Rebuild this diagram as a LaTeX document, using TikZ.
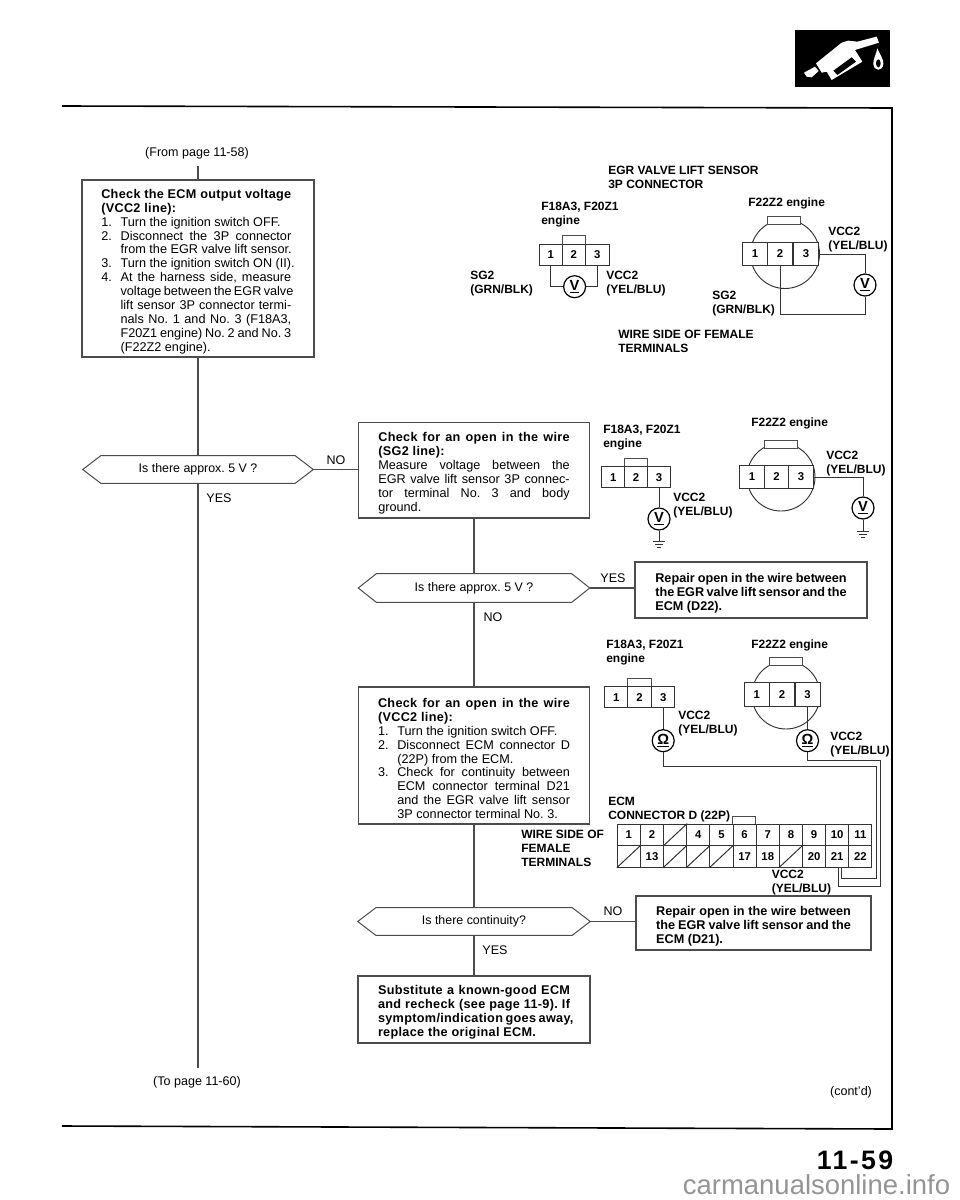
\documentclass[tikz,border=0pt]{standalone}
\usepackage{fontspec}
\setmainfont{Liberation Sans}
\newfontfamily\blsfam{Liberation Sans}[LetterSpace=2.5]
\newfontfamily\pgfam{Liberation Sans}[LetterSpace=9]
\definecolor{lc}{gray}{0.3}
\frenchspacing
\newlength{\tw}
\newcommand{\JL}[1]{\hbox to \tw{#1}}
\newcommand{\SL}[1]{\hbox{#1}}
\newcommand{\IT}[3]{\hbox to \tw{\hbox to 14.5pt{#1\hss}#2}}
\newcommand{\IL}[2]{\hbox{\hbox to 14.5pt{#1\hss}#2}}
\newcommand{\TX}[2]{\vbox{\hsize=#1\tw=#1\baselineskip=10.4pt\fontsize{9.5}{10.4}\selectfont\kern4.5pt #2}}
\newcommand{\TB}[1]{{\blsfam\bfseries #1}}
\newcommand{\HexOutline}[1]{\draw[hexline] (#1.west) -- ([xshift=13.5pt]#1.north west) -- ([xshift=-13.5pt]#1.north east) -- (#1.east) -- ([xshift=-13.5pt]#1.south east) -- ([xshift=13.5pt]#1.south west) -- cycle;}
\tikzset{
  wire/.style={line width=.75pt,draw=black!80},
  flow/.style={line width=.8pt,draw=lc},
  hexline/.style={draw=lc,line width=.75pt,line join=miter},
  bx/.style={draw=lc,fill=white,line width=.8pt,inner sep=0pt},
  hexa/.style={inner sep=0pt,font=\fontsize{9.3}{11}\selectfont},
  lab/.style={font=\bfseries\fontsize{9}{10.5}\selectfont,align=left,anchor=north west,inner sep=0pt},
  note/.style={font=\fontsize{9.4}{11}\selectfont,inner sep=0pt,anchor=center},
  cell/.style={draw=black!80,fill=white,line width=.7pt,inner sep=0pt,font=\bfseries\fontsize{8.5}{10}\selectfont},
  tabbox/.style={draw=black!70,fill=white,line width=.6pt,inner sep=0pt},
  meter/.style={circle,draw=black,fill=white,line width=.9pt,inner sep=0pt,minimum size=16.5pt,font=\bfseries\fontsize{11}{12}\selectfont},
}
\begin{document}
\begin{tikzpicture}[x=.75pt,y=-.75pt]
\useasboundingbox (0,0) rectangle (960,1200);
% page frame
\draw[line width=1.2pt,black] (62,106) -- (892,108) -- (892,1129) -- (62,1126);
% icon
\begin{scope}[shift={(780,0)},x=.25pt,y=-.25pt]
\fill[black] (45,90) rectangle (331,260);
\fill[white] (72,218) -- (105,200) -- (116,213) -- (95,232) -- (80,230) -- cycle;
\fill[white] (108,190) -- (185,128) -- (205,122) -- (232,125) -- (290,110) -- (297,128) -- (225,150) -- (247,185) -- (155,240) -- (140,215) -- (125,218) -- cycle;
\fill[black] (160,212) -- (215,172) -- (228,185) -- (172,225) -- cycle;
\fill[white] (292,145) .. controls (300,165) and (312,178) .. (310,192) .. controls (308,215) and (282,215) .. (280,192) .. controls (279,178) and (288,165) .. (292,145) -- cycle;
\fill[black] (295,190) ellipse (7 and 12);
\end{scope}
% flow labels
\node[note] (fromtxt) at (197,153) {(From page 11-58)};
\node[note] (totxt) at (197,1082) {(To page 11-60)};
\coordinate (fromend) at (198,166);
\coordinate (toend) at (198,1068);
% boxes
\node[bx,minimum width=232*.75pt,minimum height=177*.75pt] (b1) at (198,268.5) {\TX{142.5pt}{%
 \JL{\TB{Check the ECM output voltage}}
 \SL{\TB{(VCC2 line):}}
 \IL{1.}{Turn the ignition switch OFF.}
 \IT{2.}{Disconnect the 3P connector}{}
 \IL{}{from the EGR valve lift sensor.}
 \IL{3.}{Turn the ignition switch ON (II).}
 \IT{4.}{At the harness side, measure}{}
 \IT{}{voltage between the EGR valve}{}
 \IT{}{lift sensor 3P connector termi-}{}
 \IT{}{nals No. 1 and No. 3 (F18A3,}{}
 \IT{}{F20Z1 engine) No. 2 and No. 3}{}
 \IL{}{(F22Z2 engine).}}};
\node[bx,minimum width=231.5*.75pt,minimum height=95.5*.75pt] (b2) at (474,470.25) {\TX{143.5pt}{%
 \JL{\TB{Check for an open in the wire}}
 \SL{\TB{(SG2 line):}}
 \JL{Measure voltage between the}
 \JL{EGR valve lift sensor 3P connec-}
 \JL{tor terminal No. 3 and body}
 \SL{ground.}}};
\node[bx,minimum width=231*.75pt,minimum height=137*.75pt] (b3) at (474,755.5) {\TX{144pt}{%
 \JL{\TB{Check for an open in the wire}}
 \SL{\TB{(VCC2 line):}}
 \IL{1.}{Turn the ignition switch OFF.}
 \IT{2.}{Disconnect ECM connector D}{}
 \IL{}{(22P) from the ECM.}
 \IT{3.}{Check for continuity between}{}
 \IT{}{ECM connector terminal D21}{}
 \IT{}{and the EGR valve lift sensor}{}
 \IL{}{3P connector terminal No. 3.}}};
\node[bx,minimum width=232*.75pt,minimum height=67*.75pt] (b4) at (474,1009.5) {\TX{144pt}{%
 \JL{\TB{Substitute a known-good ECM}}
 \JL{\TB{and recheck (see page 11-9). If}}
 \JL{\TB{symptom/indication goes away,}}
 \SL{\TB{replace the original ECM.}}}};
\node[bx,minimum width=235*.75pt,minimum height=54*.75pt] (b5) at (753.5,923) {\TX{146pt}{%
 \JL{\bfseries Repair open in the wire between}
 \JL{\bfseries the EGR valve lift sensor and the}
 \SL{\bfseries ECM (D21).}}};
\node[bx,minimum width=232*.75pt,minimum height=56*.75pt] (b6) at (751,590) {\TX{143.5pt}{%
 \JL{\bfseries Repair open in the wire between}
 \JL{\bfseries the EGR valve lift sensor and the}
 \SL{\bfseries ECM (D22).}}};
% decisions
\node[hexa,minimum width=230*.75pt,minimum height=27*.75pt] (h1) at (198,469.5) {Is there approx. 5 V ?};
\node[hexa,minimum width=231*.75pt,minimum height=28*.75pt] (h2) at (474,588) {Is there approx. 5 V ?};
\node[hexa,minimum width=232*.75pt,minimum height=27*.75pt] (h3) at (474,921.5) {Is there continuity?};
\HexOutline{h1}
\HexOutline{h2}
\HexOutline{h3}
% connectors
\draw[flow] (fromend) -- (b1.north);
\draw[flow] (b1.south) -- (h1.north);
\draw[flow] (h1.south) -- (toend);
\draw[flow] (h1.east) -- (b2.west |- h1.east);
\draw[flow] (b2.south) -- (h2.north);
\draw[flow] (h2.south) -- (b3.north);
\draw[flow] (b3.south) -- (h3.north);
\draw[flow] (h3.south) -- (b4.north);
\draw[flow] (h2.east) -- (b6.west |- h2.east);
\draw[flow] (h3.east) -- (b5.west |- h3.east);
\node[note] (no1) at (336,460) {NO};
\node[note] (yes1) at (219,498) {YES};
\node[note] (no2) at (493,617) {NO};
\node[note] (yes2) at (613,578) {YES};
\node[note] (no3) at (613,911) {NO};
\node[note] (yes3) at (495,950) {YES};
\node[note] (contd) at (851,1092) {(cont'd)};
% header labels
\node[lab] (t1) at (608,165.5) {EGR VALVE LIFT SENSOR\\3P CONNECTOR};
\node[lab] (t2) at (541,202) {F18A3, F20Z1\\engine};
\node[lab] (t3) at (748,198) {F22Z2 engine};
\node[lab] (t4) at (470,270.5) {SG2\\(GRN/BLK)};
\node[lab] (t5) at (606,270.5) {VCC2\\(YEL/BLU)};
\node[lab] (t6) at (828,227) {VCC2\\(YEL/BLU)};
\node[lab] (t7) at (712,290.5) {SG2\\(GRN/BLK)};
\node[lab] (t8) at (618,329.5) {WIRE SIDE OF FEMALE\\TERMINALS};
\node[lab] (t9) at (603,425) {F18A3, F20Z1\\engine};
\node[lab] (t10) at (751,418) {F22Z2 engine};
\node[lab] (t11) at (673,493) {VCC2\\(YEL/BLU)};
\node[lab] (t12) at (826,450.5) {VCC2\\(YEL/BLU)};
\node[lab] (t13) at (606,639.5) {F18A3, F20Z1\\engine};
\node[lab] (t14) at (751,639.5) {F22Z2 engine};
\node[lab] (t15) at (678,710.5) {VCC2\\(YEL/BLU)};
\node[lab] (t16) at (830,732) {VCC2\\(YEL/BLU)};
\node[lab] (t17) at (608,796.5) {ECM\\CONNECTOR D (22P)};
\node[lab] (t18) at (521,829.5) {WIRE SIDE OF\\FEMALE\\TERMINALS};
\node[lab] (t19) at (771.5,870) {VCC2\\(YEL/BLU)};
% connector bodies
\node[circle,draw=black!80,line width=.7pt,minimum size=69*.75pt,inner sep=0pt] (cq) at (785,254) {};
\node[circle,draw=black!80,line width=.7pt,minimum size=68*.75pt,inner sep=0pt] (cs) at (781,477) {};
\node[circle,draw=black!80,line width=.7pt,minimum size=68*.75pt,inner sep=0pt] (cu) at (786,695) {};
\node[tabbox,minimum width=23.5*.75pt,minimum height=9*.75pt] (tp) at (573.7,239.5) {};
\node[tabbox,minimum width=23.5*.75pt,minimum height=9*.75pt] (tr) at (636,462.5) {};
\node[tabbox,minimum width=23.5*.75pt,minimum height=9*.75pt] (tt) at (639.5,682.5) {};
\node[tabbox,minimum width=33*.75pt,minimum height=8*.75pt] (tq) at (784,220.5) {};
\node[tabbox,minimum width=33*.75pt,minimum height=8*.75pt] (ts) at (780.5,444) {};
\node[tabbox,minimum width=33*.75pt,minimum height=8*.75pt] (tu) at (785.5,661) {};
\tikzset{csm/.style={cell,minimum width=23.4*.75pt,minimum height=21.5*.75pt}}
\tikzset{clg/.style={cell,minimum width=25*.75pt,minimum height=23.5*.75pt}}
\foreach \n/\xx in {1/550.7,2/573.7,3/597.3} \node[csm] (p\n) at (\xx,255) {\n};
\foreach \n/\xx in {1/613.3,2/636,3/659} \node[csm] (r\n) at (\xx,477.2) {\n};
\foreach \n/\xx in {1/616.2,2/639.5,3/663.2} \node[csm] (t\n) at (\xx,697.2) {\n};
\foreach \n/\xx in {1/755,2/780,3/806} \node[clg] (q\n) at (\xx,254) {\n};
\foreach \n/\xx in {1/752,2/776.5,3/801} \node[clg] (s\n) at (\xx,477) {\n};
\foreach \n/\xx in {1/756.7,2/782,3/807.5} \node[clg] (u\n) at (\xx,694.7) {\n};
% meters
\node[meter] (mp) at (574.6,286.7) {\underline{V}};
\node[meter] (mq) at (865,285) {\underline{V}};
\node[meter] (mr) at (659,519) {\underline{V}};
\node[meter] (ms) at (863,508) {\underline{V}};
\node[meter] (mt) at (663.2,740.7) {\underline{Ω}};
\node[meter] (mu) at (807.5,740.7) {\underline{Ω}};
\coordinate (gr) at (659,541.7);
\coordinate (gs) at (863,531.7);
% wires
\draw[wire] (p1.south) |- (mp.west);
\draw[wire] (mp.east) -| (p3.south);
\draw[wire] (q3.east) -| (mq.north);
\draw[wire] (mq.south) |- (q2.south |- 0,314.3) -- (q2.south);
\draw[wire] (r3.south) -- (mr.north);
\draw[wire] (mr.south) -- (gr);
\draw[wire] (s3.east) -| (ms.north);
\draw[wire] (ms.south) -- (gs);
\foreach \g in {gr,gs} {
  \draw[wire] ([xshift=-4.8pt]\g) -- ([xshift=4.8pt]\g);
  \draw[wire] ([xshift=-3pt,yshift=-2.2pt]\g) -- ([xshift=3pt,yshift=-2.2pt]\g);
  \draw[wire] ([xshift=-1.2pt,yshift=-4.4pt]\g) -- ([xshift=1.2pt,yshift=-4.4pt]\g);
}
\draw[wire] (t3.south) -- (mt.north);
\draw[wire] (u3.south) -- (mu.north);
% ECM connector
\node[tabbox,minimum width=23.15*.75pt,minimum height=7.5*.75pt] (te) at (744,820.5) {};
\foreach \n/\lbl in {1/1,2/2,3/,4/4,5/5,6/6,7/7,8/8,9/9,10/10,11/11}
  \node[cell,minimum width=23.15*.75pt,minimum height=21.6*.75pt] (ea\n) at ({617.3+(\n-.5)*23.15},834.8) {\lbl};
\foreach \n/\lbl in {1/,2/13,3/,4/,5/,6/17,7/18,8/,9/20,10/21,11/22}
  \node[cell,minimum width=23.15*.75pt,minimum height=21.6*.75pt] (eb\n) at ({617.3+(\n-.5)*23.15},856.4) {\lbl};
\draw[wire] (ea3.south west) -- (ea3.north east);
\foreach \n in {1,3,4,5,8} \draw[wire] (eb\n.south west) -- (eb\n.north east);
\coordinate (w1) at (841.7,867.2);
\coordinate (w2) at (838,867.2);
\draw[wire] (mt.south) |- (876.6,766.7) -- (876.6,878) -- (w1 |- 0,878) -- (w1);
\draw[wire] (mu.south) |- (880.7,760.7) -- (880.7,886) -- (w2 |- 0,886) -- (w2);
% page number and site mark
\node[inner sep=0pt,font=\pgfam\bfseries\fontsize{20}{22}\selectfont] (pg) at (855,1160) {11-59};
\node[inner sep=0pt,text=black!42,font=\fontsize{20.6}{22}\selectfont] (site) at (816.5,1185) {carmanualsonline.info};
\end{tikzpicture}
\end{document}
